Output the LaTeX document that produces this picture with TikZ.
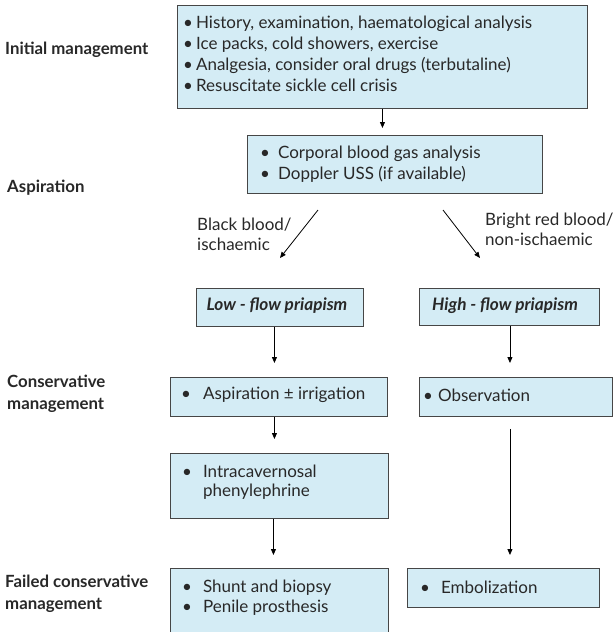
\documentclass[tikz,border=0pt]{standalone}
\usepackage{fontspec}
\setmainfont{Lato}
\usetikzlibrary{arrows.meta}
\definecolor{boxfill}{RGB}{212,236,245}
\definecolor{boxline}{RGB}{70,70,70}
\definecolor{txt}{RGB}{40,40,40}
\tikzset{
  box/.style={draw=boxline, fill=boxfill, line width=0.9pt, anchor=north west, inner sep=0pt},
  body/.style={anchor=west, inner sep=0pt, text=txt, font=\fontsize{17}{21}\selectfont, align=left},
  side/.style={anchor=west, inner sep=0pt, text=txt, font=\fontsize{16.8}{22}\selectfont\bfseries, align=left},
  flow/.style={inner sep=0pt, text=txt, font=\fontsize{17.2}{20}\selectfont\bfseries\itshape},
  arr/.style={-{Triangle[length=6pt,width=5pt]}, line width=0.8pt, black},
}
\newcommand{\bul}{\textbullet}
\begin{document}
\begin{tikzpicture}[x=1pt,y=-1pt]
\clip (0,0) rectangle (615,632);
\fill[white] (0,0) rectangle (615,632);
% boxes
\node[box, minimum width=410pt, minimum height=103pt] (b1) at (177,5) {};
\node[box, minimum width=295pt, minimum height=58pt] (b2) at (247,135) {};
\node[box, minimum width=167pt, minimum height=38pt] (low) at (196,288) {};
\node[box, minimum width=180pt, minimum height=37pt] (high) at (419,288) {};
\node[box, minimum width=217pt, minimum height=39pt] (asp) at (170,377) {};
\node[box, minimum width=193pt, minimum height=39pt] (obs) at (419,377) {};
\node[box, minimum width=218pt, minimum height=65pt] (intra) at (170,453) {};
\node[box, minimum width=218pt, minimum height=90pt] (shunt) at (170,568) {};
\node[box, minimum width=192pt, minimum height=39pt] (emb) at (407,568) {};
% box texts
\node[body] (t1) at (183,55.5) {\begin{tabular}{@{}l@{\hspace{3pt}}l@{}}
\bul & History, examination, haematological analysis\\
\bul & Ice packs, cold showers, exercise\\
\bul & Analgesia, consider oral drugs (terbutaline)\\
\bul & Resuscitate sickle cell crisis\end{tabular}};
\node[body] (t2) at (260,164.5) {\begin{tabular}{@{}l@{\hspace{8pt}}l@{}}
\bul & Corporal blood gas analysis\\
\bul & Doppler USS (if available)\end{tabular}};
\node[flow] (tlow) at (277,306) {Low - flow priapism};
\node[flow] (thigh) at (505,306) {High - flow priapism};
\node[body] (tasp) at (181,395) {\bul\hspace{12pt}Aspiration ± irrigation};
\node[body] (tobs) at (423,395) {\bul\hspace{5pt}Observation};
\node[body] (tintra) at (182,482.5) {\begin{tabular}{@{}l@{\hspace{11pt}}l@{}}
\bul & Intracavernosal\\[-2pt]
 & phenylephrine\end{tabular}};
\node[body] (tshunt) at (182,598) {\begin{tabular}{@{}l@{\hspace{11pt}}l@{}}
\bul & Shunt and biopsy\\[-1pt]
\bul & Penile prosthesis\end{tabular}};
\node[body] (temb) at (420,587) {\bul\hspace{11pt}Embolization};
% branch labels
\node[body] (lblack) at (197,234.5) {Black blood/\\[-1pt]ischaemic};
\node[body] (lbright) at (485,229) {Bright red blood/\\[-1pt]non-ischaemic};
% side labels
\node[side] (s1) at (5,50) {Initial management};
\node[side] (s2) at (7,188) {Aspiration};
\node[side] (s3) at (7,394) {Conservative\\management};
\node[side] (s4) at (5,594) {Failed conservative\\management};
% connectors
\coordinate (dl1) at (318,210);
\coordinate (dl2) at (280,258);
\coordinate (dr1) at (443,210);
\coordinate (dr2) at (480,258);
\draw[arr, shorten >=7pt] (b1.south) -- (b1.south |- b2.north);
\draw[arr] (dl1) -- (dl2);
\draw[arr] (dr1) -- (dr2);
\draw[arr, shorten >=14pt] ([xshift=-5.5pt]low.south) -- ([xshift=-5.5pt]low.south |- asp.north);
\draw[arr, shorten >=14pt] ([xshift=0.5pt]high.south) -- ([xshift=0.5pt]high.south |- obs.north);
\draw[arr, shorten >=14pt] ([xshift=-4.5pt]asp.south) -- ([xshift=-4.5pt]asp.south |- intra.north);
\draw[arr, shorten >=13pt, shorten <=12pt] ([xshift=-6pt]obs.south) -- ([xshift=-6pt]obs.south |- emb.north);
\draw[arr, shorten >=13pt] ([xshift=-6pt]intra.south) -- ([xshift=-6pt]intra.south |- shunt.north);
\end{tikzpicture}
\end{document}
